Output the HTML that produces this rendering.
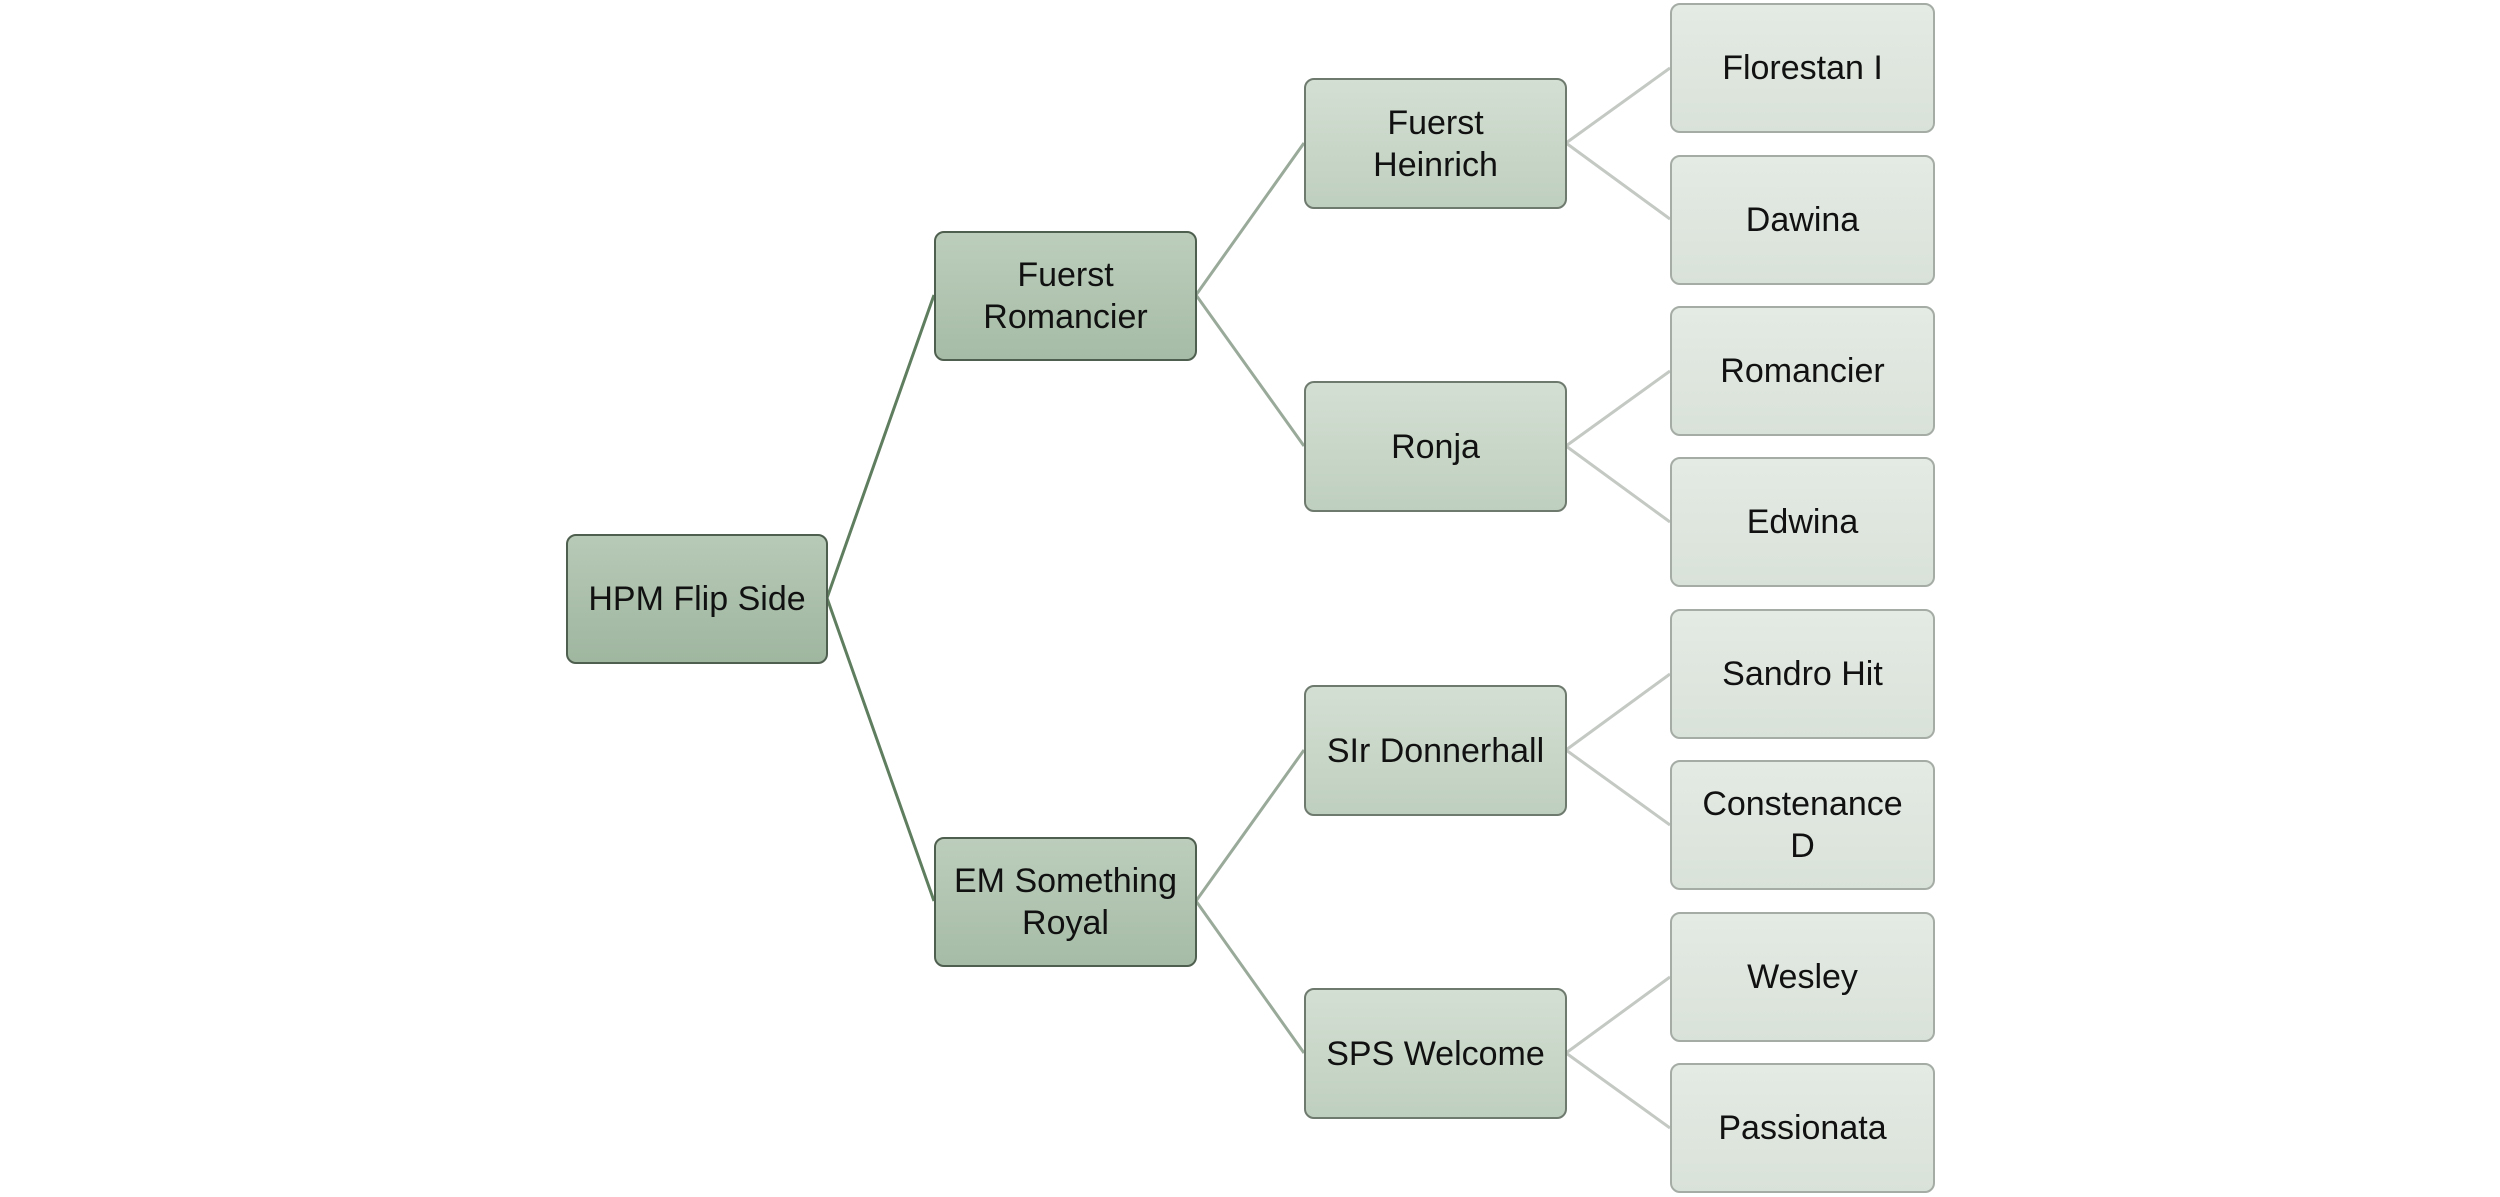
<!DOCTYPE html>
<html><head><meta charset="utf-8"><style>
html,body{margin:0;padding:0;background:#fff;}
body{width:2500px;height:1197px;position:relative;overflow:hidden;font-family:"Liberation Sans",sans-serif;}
.b{position:absolute;box-sizing:border-box;border-radius:10px;display:flex;align-items:center;justify-content:center;text-align:center;font-size:34px;line-height:42px;color:#111;}
.l0{background:linear-gradient(#b7c9b7,#9fb69f);border:2px solid #4f5f4f;}
.l1{background:linear-gradient(#bccdbc,#a6bca6);border:2px solid #4f5f4f;}
.l2{background:linear-gradient(#d3dfd3,#bfcfbf);border:2px solid #6f7a6f;}
.l3{background:linear-gradient(#e4eae4,#d9e2d9);border:2px solid #a5aca5;}
svg{position:absolute;left:0;top:0;}
</style></head><body>
<svg width="2500" height="1197">
<g stroke="#5f7d5f" stroke-width="3" fill="none">
<line x1="827" y1="598" x2="934" y2="295"/>
<line x1="827" y1="598" x2="934" y2="901"/>
</g>
<g stroke="#9aaa9a" stroke-width="3" fill="none">
<line x1="1196" y1="295" x2="1304" y2="143"/>
<line x1="1196" y1="295" x2="1304" y2="446"/>
<line x1="1196" y1="901" x2="1304" y2="750"/>
<line x1="1196" y1="901" x2="1304" y2="1053"/>
</g>
<g stroke="#c4c9c4" stroke-width="3" fill="none">
<line x1="1566" y1="143" x2="1670" y2="68"/>
<line x1="1566" y1="143" x2="1670" y2="219"/>
<line x1="1566" y1="446" x2="1670" y2="371"/>
<line x1="1566" y1="446" x2="1670" y2="522"/>
<line x1="1566" y1="750" x2="1670" y2="674"/>
<line x1="1566" y1="750" x2="1670" y2="825"/>
<line x1="1566" y1="1053" x2="1670" y2="977"/>
<line x1="1566" y1="1053" x2="1670" y2="1128"/>
</g>
</svg>
<div class="b l0" style="left:566px;top:534px;width:262px;height:130px;">HPM Flip Side</div>
<div class="b l1" style="left:934px;top:231px;width:263px;height:130px;">Fuerst<br>Romancier</div>
<div class="b l1" style="left:934px;top:837px;width:263px;height:130px;">EM Something<br>Royal</div>
<div class="b l2" style="left:1304px;top:78px;width:263px;height:131px;">Fuerst<br>Heinrich</div>
<div class="b l2" style="left:1304px;top:381px;width:263px;height:131px;">Ronja</div>
<div class="b l2" style="left:1304px;top:685px;width:263px;height:131px;">SIr Donnerhall</div>
<div class="b l2" style="left:1304px;top:988px;width:263px;height:131px;">SPS Welcome</div>
<div class="b l3" style="left:1670px;top:3px;width:265px;height:130px;">Florestan I</div>
<div class="b l3" style="left:1670px;top:155px;width:265px;height:130px;">Dawina</div>
<div class="b l3" style="left:1670px;top:306px;width:265px;height:130px;">Romancier</div>
<div class="b l3" style="left:1670px;top:457px;width:265px;height:130px;">Edwina</div>
<div class="b l3" style="left:1670px;top:609px;width:265px;height:130px;">Sandro Hit</div>
<div class="b l3" style="left:1670px;top:760px;width:265px;height:130px;">Constenance<br>D</div>
<div class="b l3" style="left:1670px;top:912px;width:265px;height:130px;">Wesley</div>
<div class="b l3" style="left:1670px;top:1063px;width:265px;height:130px;">Passionata</div>
</body></html>
